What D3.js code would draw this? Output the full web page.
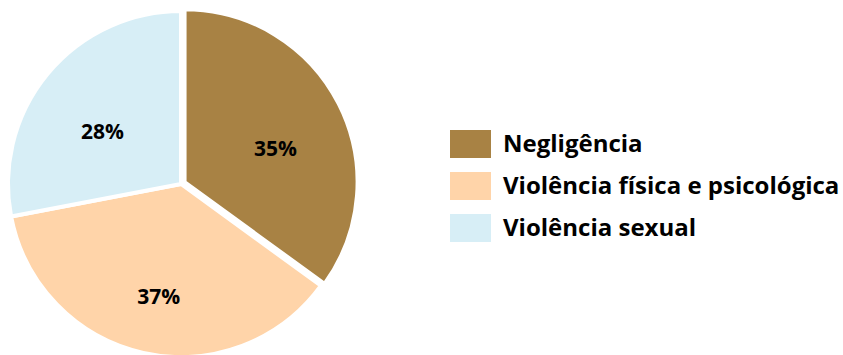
<!DOCTYPE html>
<html>
<head>
<meta charset="utf-8">
<script src="https://cdn.jsdelivr.net/npm/d3@7"></script>
<style>
  body { margin: 0; background: #fff; }
  text { font-family: "Open Sans", "Liberation Sans", sans-serif; font-weight: 700; fill: #000; }
</style>
</head>
<body>
<div id="chart"></div>
<script>
const categories = ["Negligência", "Violência física e psicológica", "Violência sexual"];
const values = [35, 37, 28];
const colors = ["#a88244", "#ffd4a9", "#d7eef6"];

const width = 843, height = 355;
const radius = 173;
const cx = 181, cy = 184;

const svg = d3.select("#chart")
              .append("svg")
              .attr("width", width)
              .attr("height", height);

const pie = d3.pie().sort(null).value(function(d) { return d; });
const arc = d3.arc().innerRadius(0).outerRadius(radius);
const labelArc = d3.arc().innerRadius(102).outerRadius(102);

const arcs = pie(values);

const g = svg.append("g")
             .attr("transform", "translate(" + cx + "," + cy + ")");

const slice = g.selectAll(".slice")
               .data(arcs)
               .enter()
               .append("g")
               .attr("class", "slice")
               .attr("transform", function(d, i) {
                   // first slice is pulled out a little
                   if (i !== 0) return null;
                   const mid = (d.startAngle + d.endAngle) / 2;
                   return "translate(" + (Math.sin(mid) * 4) + "," + (-Math.cos(mid) * 4) + ")";
               });

slice.append("path")
     .attr("d", arc)
     .attr("fill", function(d, i) { return colors[i]; })
     .attr("stroke", "#fff")
     .attr("stroke-width", 4)
     .attr("stroke-linejoin", "round");

slice.append("text")
     .attr("transform", function(d) {
         const c = labelArc.centroid(d);
         return "translate(" + c[0] + "," + (c[1] + 13) + ")";
     })
     .attr("text-anchor", "middle")
     .attr("dy", "0.35em")
     .attr("font-size", 21)
     .text(function(d) { return d.data + "%"; });

const legend = svg.append("g")
                  .attr("transform", "translate(450,130)");

const item = legend.selectAll(".legend-item")
                   .data(categories)
                   .enter()
                   .append("g")
                   .attr("class", "legend-item")
                   .attr("transform", function(d, i) { return "translate(0," + (i * 42) + ")"; });

item.append("rect")
    .attr("width", 41)
    .attr("height", 28)
    .attr("fill", function(d, i) { return colors[i]; });

item.append("text")
    .attr("x", 53)
    .attr("y", 22)
    .attr("font-size", 24)
    .text(function(d) { return d; });
</script>
</body>
</html>
